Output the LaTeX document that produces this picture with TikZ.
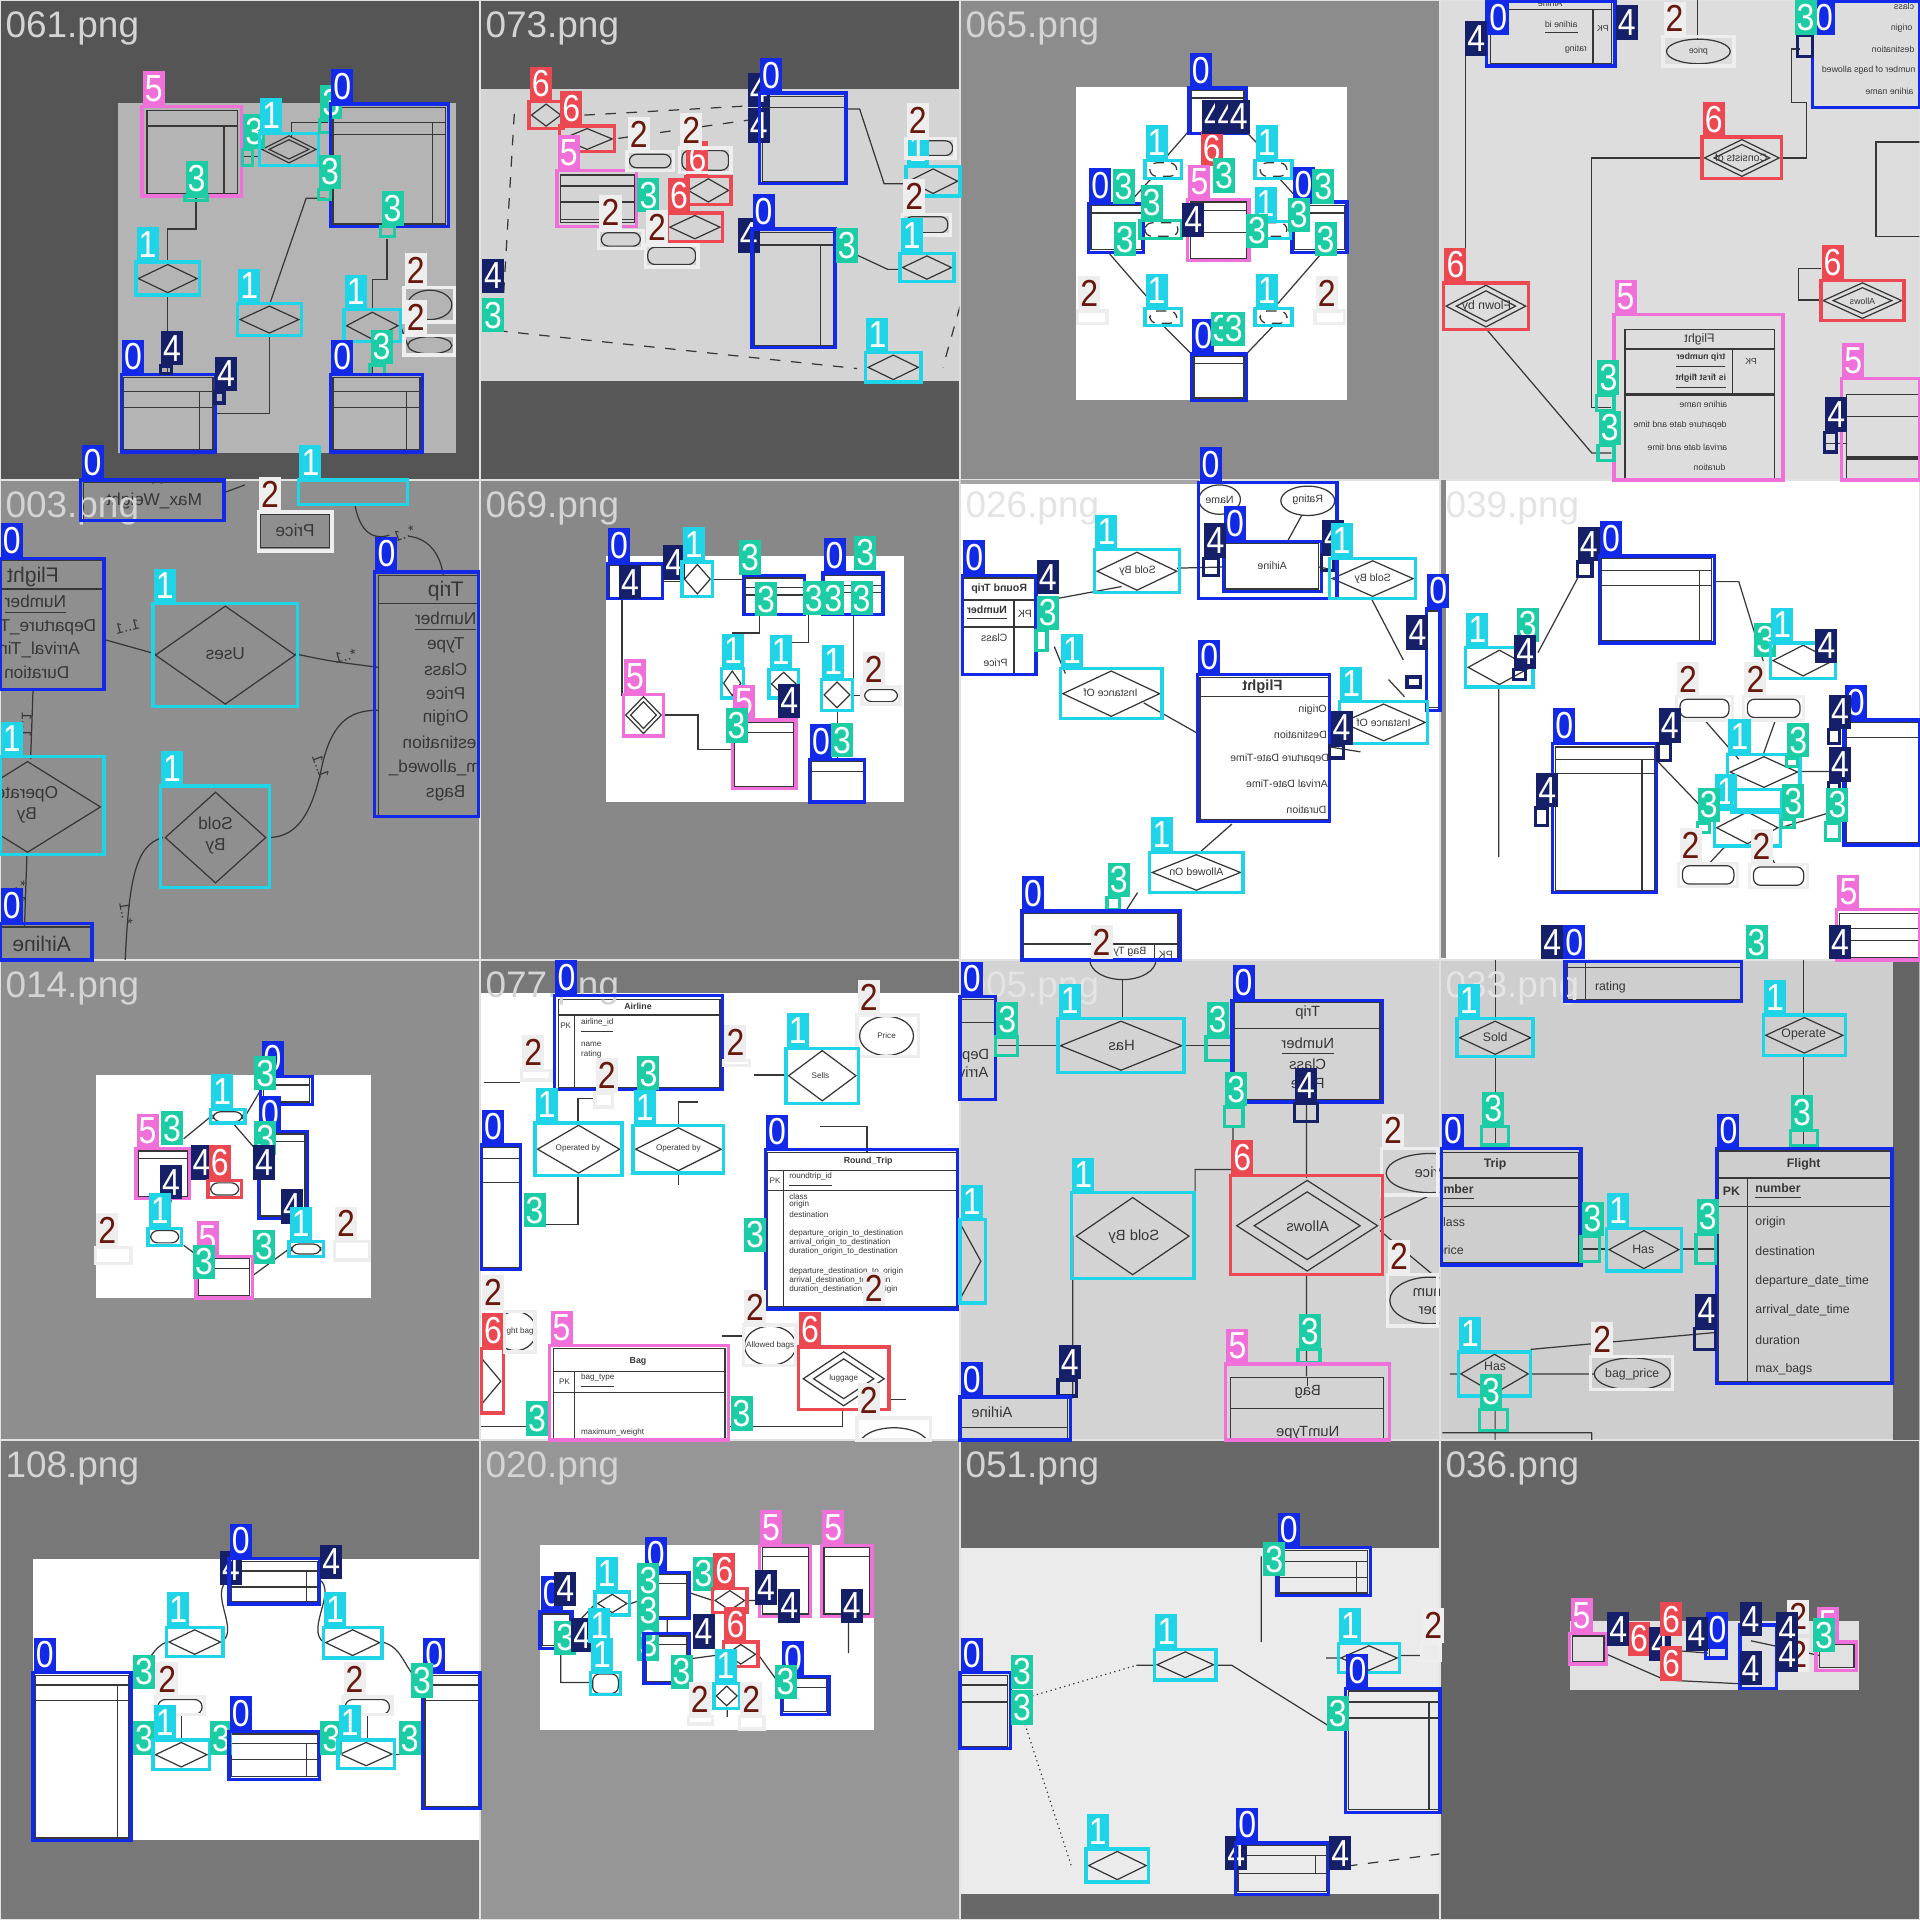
\documentclass[tikz,border=0pt]{standalone}
\usepackage{fontspec}
\setmainfont{Liberation Sans}
\newfontfamily\tagfont[FakeStretch=0.85]{Liberation Sans}

% annotation classes
\definecolor{cBlue}{RGB}{18,42,232}
\definecolor{cCyan}{RGB}{32,212,232}
\definecolor{cPale}{RGB}{238,238,238}
\definecolor{cBrown}{RGB}{104,24,12}
\definecolor{cTeal}{RGB}{28,204,164}
\definecolor{cNavy}{RGB}{22,32,104}
\definecolor{cPink}{RGB}{240,112,218}
\definecolor{cRed}{RGB}{236,72,82}
% thumbnails
\definecolor{inkGrey}{RGB}{55,55,55}
\definecolor{gapGrey}{RGB}{225,225,225}
\definecolor{bg061}{RGB}{85,85,85}
\definecolor{in061}{RGB}{180,180,180}
\definecolor{bg073}{RGB}{88,88,88}
\definecolor{in073}{RGB}{212,212,212}
\definecolor{bg065}{RGB}{140,140,140}
\definecolor{bgZoom}{RGB}{221,221,221}
\definecolor{bg003}{RGB}{143,143,143}
\definecolor{bg069}{RGB}{136,136,136}
\definecolor{bg014}{RGB}{142,142,142}
\definecolor{bg077}{RGB}{120,120,120}
\definecolor{bg005}{RGB}{211,211,211}
\definecolor{bg033}{RGB}{206,206,206}
\definecolor{strip033}{RGB}{100,100,100}
\definecolor{bg108}{RGB}{120,120,120}
\definecolor{bg020}{RGB}{150,150,150}
\definecolor{bg051}{RGB}{104,104,104}
\definecolor{in051}{RGB}{235,235,235}
\definecolor{bg036}{RGB}{102,102,102}
\definecolor{in036}{RGB}{225,225,225}
\definecolor{lblGrey}{RGB}{212,212,212}
\definecolor{lblFaint}{RGB}{228,228,228}

\newcounter{tagno}
\newcounter{txtno}
% annotation: outline, class tag on its upper left corner
\newcommand{\annframe}[5]{\draw[box#1] (#2,#3) rectangle (#4,#5);}
\newcommand{\anntag}[3]{\stepcounter{tagno}\node[tag#1] (tag\arabic{tagno}) at (#2,#3) {#1};}
\newcommand{\annbox}[5]{\annframe{#1}{#2}{#3}{#4}{#5}\anntag{#1}{#2}{#3}}
% thumbnail helpers
\newcommand{\thumbtxt}[4][]{\stepcounter{txtno}\node[lbl,#1] (txt\arabic{txtno}) at (#2,#3) {#4};}
\newcommand{\dia}[4]{\draw[ink] ({(#1+#3)/2},{#2+2}) -- ({#3-2},{(#2+#4)/2}) -- ({(#1+#3)/2},{#4-2}) -- ({#1+2},{(#2+#4)/2}) -- cycle;}
\newcommand{\ddia}[4]{\dia{#1}{#2}{#3}{#4}\dia{#1+0.12*(#3-#1)}{#2+0.12*(#4-#2)}{#3-0.12*(#3-#1)}{#4-0.12*(#4-#2)}}
\newcommand{\tilebg}[3]{\fill[#3] ({#1*392+0.5},{#2*392+0.5}) rectangle ({#1*392+391.5},{#2*392+391.5});}
\newcommand{\tileclip}[2]{\clip ({#1*392+0.5},{#2*392+0.5}) rectangle ({#1*392+391.5},{#2*392+391.5});}
\newcommand{\tilelbl}[4]{\node[tilename, text=#4] (lbl#3) at ({#1*392+4},{#2*392+31}) {#3.png};}

\begin{document}
\begin{tikzpicture}[
    x=0.012245cm, y=-0.012245cm,
    % thumbnail drawing
    ink/.style = {draw=inkGrey, line width=0.35pt},
    lbl/.style = {inner sep=0pt, text=inkGrey, sz30},
    mir/.style = {xscale=-1},
    sz23/.style = {font=\fontsize{2.3}{2.8}\selectfont},
    sz25/.style = {font=\fontsize{2.5}{3}\selectfont},
    sz30/.style = {font=\fontsize{3}{3.6}\selectfont},
    sz35/.style = {font=\fontsize{3.5}{4.2}\selectfont},
    sz42/.style = {font=\fontsize{4.2}{5}\selectfont},
    sz49/.style = {font=\fontsize{4.9}{6}\selectfont},
    sz60/.style = {font=\fontsize{6}{7}\selectfont},
    tilename/.style = {anchor=base west, inner sep=0pt, font=\fontsize{10.5}{12}\selectfont},
    % annotation boxes and tags
    tagbase/.style = {anchor=south west, inner sep=0pt, minimum width=0.22cm,
                      minimum height=0.343cm, text=white, font=\tagfont\fontsize{10.7}{11}\selectfont},
    box0/.style = {draw=cBlue, line width=0.95pt}, tag0/.style = {tagbase, fill=cBlue},
    box1/.style = {draw=cCyan, line width=0.95pt}, tag1/.style = {tagbase, fill=cCyan},
    box2/.style = {draw=cPale, line width=0.95pt}, tag2/.style = {tagbase, fill=cPale, text=cBrown},
    box3/.style = {draw=cTeal, line width=0.95pt}, tag3/.style = {tagbase, fill=cTeal},
    box4/.style = {draw=cNavy, line width=0.95pt}, tag4/.style = {tagbase, fill=cNavy},
    box5/.style = {draw=cPink, line width=0.95pt}, tag5/.style = {tagbase, fill=cPink},
    box6/.style = {draw=cRed, line width=0.95pt}, tag6/.style = {tagbase, fill=cRed}
  ]
  \useasboundingbox (0,0) rectangle (1568,1568);
  \fill[gapGrey] (0,0) rectangle (1568,1568);

  % ===== Part 1: thumbnails =====

  % --- 061 ---
  \tilebg{0}{0}{bg061}
  \begin{scope}
    \tileclip{0}{0}
    \fill[in061] (96,84) rectangle (372,370);
    \draw[ink] (120,90) rectangle (194,158) (120,103) -- (194,103) (183,103) -- (183,158);
    \draw[ink] (272,88) rectangle (364,183) (272,100) -- (364,100) (272,110) -- (364,110) (353,100) -- (353,183);
    \draw[ink] (101,308) rectangle (174,367) (101,320) -- (174,320) (101,333) -- (174,333) (163,320) -- (163,367);
    \draw[ink] (272,308) rectangle (343,367) (272,320) -- (343,320) (272,333) -- (343,333) (332,320) -- (332,367);
    \ddia{212}{109}{260}{135}
    \dia{111}{214}{163}{241}
    \dia{194}{248}{246}{274}
    \dia{281}{253}{327}{279}
    \draw[ink] (351,249) ellipse [x radius=18, y radius=12];
    \draw[ink] (351,282) ellipse [x radius=18, y radius=7];
    \draw[ink] (160,160) -- (160,187) -- (137,187) -- (137,214);
    \draw[ink] (137,241) -- (137,306);
    \draw[ink] (198,128) -- (212,128);
    \draw[ink] (238,113) -- (238,100) -- (268,100);
    \draw[ink] (220,249) -- (250,162) -- (266,162);
    \draw[ink] (220,274) -- (220,338) -- (176,338);
    \draw[ink] (304,253) -- (304,228) -- (316,228) -- (316,195);
    \draw[ink] (327,266) -- (333,250) (327,266) -- (333,282) (304,279) -- (304,306);
  \end{scope}
  \tilelbl{0}{0}{061}{lblGrey}

  % --- 073 ---
  \tilebg{1}{0}{bg073}
  \begin{scope}
    \tileclip{1}{0}
    \fill[in073] (393,73) rectangle (784,311);
    \draw[ink, dashed] (420,93) -- (410,262);
    \draw[ink, dashed] (406,270) -- (700,301);
    \draw[ink, dashed] (460,95) -- (620,86);
    \draw[ink, dashed] (505,113) -- (612,98);
    \draw[ink, dashed] (784,250) -- (770,300);
    \draw[ink] (690,89) -- (702,89) -- (722,150) -- (740,150);
    \draw[ink] (682,200) -- (725,220) -- (735,220);
    \draw[ink] (458,143) rectangle (518,182) (458,152) -- (518,152) (458,165) -- (518,165) (458,179) -- (518,179);
    \draw[ink] (623,79) rectangle (690,148) (623,88) -- (690,88);
    \draw[ink] (616,190) rectangle (681,282) (616,200) -- (681,200) (670,200) -- (670,282);
    \dia{432}{83}{460}{105}
    \dia{457}{103}{502}{124}
    \dia{560}{144}{597}{167}
    \dia{545}{174}{590}{197}
    \dia{740}{136}{784}{160}
    \dia{735}{207}{779}{230}
    \dia{707}{288}{752}{312}
    \draw[ink, rounded corners=2pt] (514,126) rectangle (548,137) (557,123) rectangle (595,139)
      (491,190) rectangle (523,201) (529,202) rectangle (568,216) (742,115) rectangle (778,127) (739,177) rectangle (774,190);
  \end{scope}
  \tilelbl{1}{0}{073}{lblGrey}

  % --- 065 ---
  \tilebg{2}{0}{bg065}
  \begin{scope}
    \tileclip{2}{0}
    \fill[white] (879,71) rectangle (1100,327);
    \draw[ink] (973,74) rectangle (1016,108) (973,80) -- (1016,80);
    \draw[ink] (891,168) rectangle (932,204) (891,174) -- (932,174);
    \draw[ink] (1057,168) rectangle (1098,204) (1057,174) -- (1098,174);
    \draw[ink] (972,165) rectangle (1018,211) (972,172) -- (1018,172) (972,190) -- (1018,190);
    \draw[ink] (975,291) rectangle (1016,325) (975,297) -- (1016,297);
    \draw[ink] (970,108) -- (950,131) (1018,108) -- (1040,131) (940,146) -- (920,168) (1045,146) -- (1065,168)
      (905,206) -- (945,252) (1080,206) -- (1040,252) (950,266) -- (975,291) (1040,266) -- (1016,291)
      (965,188) -- (972,188) (1018,188) -- (1024,188);
    \draw[ink, densely dashed, rounded corners=2pt] (939,133) rectangle (961,144) (1029,133) rectangle (1051,144)
      (939,254) rectangle (961,264) (1029,254) rectangle (1051,264) (935,182) rectangle (962,193) (1027,182) rectangle (1051,193);
  \end{scope}
  \tilelbl{2}{0}{065}{lblGrey}

  % --- zoomed tile, row 1 ---
  \tilebg{3}{0}{bgZoom}
  \begin{scope}
    \tileclip{3}{0}
    \draw[ink] (1217,-2) rectangle (1316,52) (1217,8) -- (1316,8) (1301,8) -- (1301,52);
    \thumbtxt[mir,sz25]{1266}{3}{Airline}
    \thumbtxt[mir,sz25]{1275}{23}{\underline{airline id}}
    \thumbtxt[mir,sz25]{1309}{23}{PK}
    \thumbtxt[mir,sz25]{1287}{40}{rating}
    \draw[ink] (1387,42) ellipse [x radius=26, y radius=10];
    \thumbtxt[mir,sz25]{1387}{42}{price}
    \draw[ink] (1386,0) -- (1386,32);
    \thumbtxt[mir,sz25]{1555}{5}{class}
    \thumbtxt[mir,sz25]{1553}{23}{origin}
    \thumbtxt[mir,sz25]{1546}{40}{destination}
    \thumbtxt[mir,sz25]{1526}{57}{number of bags allowed}
    \thumbtxt[mir,sz25]{1543}{75}{airline name}
    \ddia{1390}{112}{1455}{146}
    \thumbtxt[mir,sz30]{1422}{129}{Consists of}
    \ddia{1179}{231}{1248}{269}
    \thumbtxt[mir,sz35]{1214}{250}{Flown by}
    \ddia{1487}{229}{1555}{262}
    \thumbtxt[mir,sz25]{1521}{246}{Allows}
    \draw[ink] (1327,269) rectangle (1449,400) (1327,285) -- (1449,285) (1415,285) -- (1415,322);
    \draw[inkGrey, line width=0.9pt] (1327,322) -- (1449,322);
    \thumbtxt[mir,sz35]{1388}{277}{Flight}
    \thumbtxt[mir,sz25]{1389}{295}{\textbf{\underline{trip number}}}
    \thumbtxt[mir,sz25]{1430}{295}{PK}
    \thumbtxt[mir,sz25]{1389}{312}{\textbf{\underline{is first flight}}}
    \thumbtxt[mir,sz25]{1391}{330}{airline name}
    \thumbtxt[mir,sz25]{1372}{347}{departure date and time}
    \thumbtxt[mir,sz25]{1378}{365}{arrival date and time}
    \thumbtxt[mir,sz25]{1396}{382}{duration}
    \draw[ink] (1197,46) -- (1197,231);
    \draw[ink] (1214,269) -- (1300,370) -- (1316,370);
    \draw[ink] (1390,129) -- (1300,129) -- (1300,333) -- (1316,333);
    \draw[ink] (1455,129) -- (1475,129) -- (1475,84) -- (1463,84) -- (1463,40) -- (1470,40);
    \draw[ink] (1487,219) -- (1469,219) -- (1469,245) -- (1487,245);
    \draw[ink] (1532,116) rectangle (1580,193);
    \draw[ink] (1508,322) rectangle (1580,400) (1508,340) -- (1580,340) (1490,362) -- (1508,362);
    \draw[inkGrey, line width=0.9pt] (1508,374) -- (1580,374);
  \end{scope}

  % --- 003 ---
  \tilebg{0}{1}{bg003}
  \begin{scope}
    \tileclip{0}{1}
    \draw[ink] (-2,458) rectangle (84,562) (-2,481) -- (84,481);
    \thumbtxt[mir,sz60]{27}{471}{Flight}
    \thumbtxt[mir,sz49]{29}{494}{\underline{Number}}
    \thumbtxt[mir,sz49]{28}{512}{Departure\_Time}
    \thumbtxt[mir,sz49]{26}{531}{Arrival\_Time}
    \thumbtxt[mir,sz49]{30}{549}{Duration}
    \dia{125}{493}{243}{577}
    \thumbtxt[mir,sz49]{184}{534}{Uses}
    \draw[ink] (309,470) rectangle (400,667) (309,493) -- (400,493);
    \thumbtxt[mir,sz60]{364}{483}{Trip}
    \thumbtxt[mir,sz49]{364}{508}{\underline{Number}}
    \thumbtxt[mir,sz49]{364}{527}{Type}
    \thumbtxt[mir,sz49]{364}{547}{Class}
    \thumbtxt[mir,sz49]{364}{566}{Price}
    \thumbtxt[mir,sz49]{364}{586}{Origin}
    \thumbtxt[mir,sz49]{364}{606}{Destination}
    \thumbtxt[mir,sz49]{364}{627}{Num\_allowed\_}
    \thumbtxt[mir,sz49]{364}{648}{Bags}
    \dia{-39}{620}{84}{698}
    \thumbtxt[mir,sz49,align=center]{22}{657}{Operate\\By}
    \dia{133}{645}{219}{723}
    \thumbtxt[mir,sz49,align=center]{176}{682}{Sold\\By}
    \draw[ink] (-2,757) rectangle (74,790);
    \thumbtxt[mir,sz60]{34}{771}{Airline}
    \draw[ink] (68,394) rectangle (182,424);
    \thumbtxt[mir,sz49]{126}{409}{Max\_Weight}
    \thumbtxt[mir,sz49]{126}{389}{Type}
    \draw[ink] (213,420) rectangle (269,447);
    \thumbtxt[mir,sz49]{241}{433}{Price}
    \draw[ink] (84,522) -- (127,534);
    \draw[ink] (241,534) .. controls (270,540) .. (309,545);
    \draw[ink] (27,563) -- (25,620);
    \draw[ink] (22,698) -- (20,757);
    \draw[ink] (219,684) .. controls (245,684) and (255,660) .. (262,630) .. controls (270,590) and (285,580) .. (309,580);
    \draw[ink] (133,684) .. controls (110,690) and (105,720) .. (102,790);
    \draw[ink] (290,413) .. controls (295,440) and (310,440) .. (318,437);
    \draw[ink] (334,438) .. controls (352,440) and (360,455) .. (362,470);
    \draw[ink] (184,402) -- (200,396);
    \thumbtxt[mir,sz42,rotate=-15]{104}{512}{1..1}
    \thumbtxt[mir,sz42,rotate=-15]{282}{536}{*..1}
    \thumbtxt[mir,sz42,rotate=90]{22}{592}{1..1}
    \thumbtxt[mir,sz42,rotate=90]{17}{728}{1..*}
    \thumbtxt[mir,sz42,rotate=70]{262}{626}{1..1}
    \thumbtxt[mir,sz42,rotate=80]{103}{746}{*..1}
    \thumbtxt[mir,sz42,rotate=-20]{330}{436}{*..1}
  \end{scope}
  \tilelbl{0}{1}{003}{lblGrey}

  % --- 069 ---
  \tilebg{1}{1}{bg069}
  \begin{scope}
    \tileclip{1}{1}
    \fill[white] (495,454) rectangle (738,655);
    \draw[ink] (498,462) rectangle (540,488);
    \draw[ink] (609,472) rectangle (656,501) (609,480) -- (656,480) (609,486) -- (656,486);
    \draw[ink] (673,470) rectangle (720,501) (673,478) -- (720,478) (673,484) -- (720,484);
    \draw[ink] (600,590) rectangle (648,642) (600,598) -- (648,598);
    \draw[ink] (663,622) rectangle (705,654) (663,630) -- (705,630);
    \dia{557}{459}{582}{487}
    \dia{589}{546}{607}{570}
    \dia{628}{547}{652}{570}
    \dia{671}{555}{696}{580}
    \ddia{509}{567}{542}{601}
    \draw[ink] (541,475) -- (557,475) (582,473) -- (609,473) (508,490) -- (508,568)
      (542,584) -- (570,584) -- (570,612) -- (600,612) (620,502) -- (620,517) -- (598,517) -- (598,546)
      (660,502) -- (660,525) -- (640,525) -- (640,547) (697,502) -- (697,555) (696,568) -- (704,568) (684,580) -- (684,622);
    \draw[ink, rounded corners=2pt] (706,563) rectangle (733,573);
  \end{scope}
  \tilelbl{1}{1}{069}{lblGrey}

  % --- 026 ---
  \tilebg{2}{1}{white}
  \begin{scope}
    \tileclip{2}{1}
    \draw[inkGrey!45, line width=1pt] (784,393.5) -- (979,393.5);
    \draw[ink] (996,408) ellipse [x radius=17, y radius=12];
    \draw[ink] (1068,409) ellipse [x radius=22, y radius=12];
    \thumbtxt[mir]{996}{408}{Name}
    \thumbtxt[mir]{1068}{408}{Rating}
    \draw[ink] (1063,421) -- (1052,441);
    \draw[ink] (1001,444) rectangle (1077,481);
    \thumbtxt[mir]{1039}{462}{Airline}
    \dia{894}{449}{963}{484}
    \thumbtxt[mir]{929}{466}{Sold By}
    \dia{1086}{456}{1156}{489}
    \thumbtxt[mir]{1121}{473}{Sold By}
    \draw[ink] (786,472) rectangle (846,551) (786,490) -- (846,490) (786,512) -- (846,512) (828,490) -- (828,551);
    \thumbtxt[mir]{816}{481}{\textbf{Round Trip}}
    \thumbtxt[mir]{837}{501}{PK}
    \thumbtxt[mir]{806}{501}{\textbf{\underline{Number}}}
    \thumbtxt[mir]{812}{521}{Class}
    \thumbtxt[mir]{813}{541}{Price}
    \dia{866}{546}{949}{587}
    \thumbtxt[mir]{907}{566}{Instance Of}
    \dia{1094}{573}{1166}{607}
    \thumbtxt[mir]{1130}{590}{Instance Of}
    \draw[ink] (1166,499) rectangle (1180,578);
    \draw[ink] (980,553) rectangle (1086,669) (980,569) -- (1086,569);
    \thumbtxt[mir,sz42]{1031}{561}{\textbf{Flight}}
    \thumbtxt[mir]{1072}{580}{Origin}
    \thumbtxt[mir]{1062}{600}{Destination}
    \thumbtxt[mir]{1045}{620}{Departure Date-Time}
    \thumbtxt[mir]{1051}{640}{Arrival Date-Time}
    \thumbtxt[mir]{1067}{661}{Duration}
    \dia{939}{696}{1015}{729}
    \thumbtxt[mir]{977}{712}{Allowed On}
    \draw[ink] (836,746) rectangle (962,790) (836,771) -- (962,771) (943,771) -- (943,790);
    \thumbtxt[mir]{952}{780}{PK}
    \thumbtxt[mir]{918}{780}{\underline{Bag Type}}
    \draw[ink] (846,492) -- (916,479) (961,464) -- (1001,463) (1077,463) -- (1092,466)
      (1120,489) -- (1146,539) (861,528) -- (870,550) (934,574) -- (980,600)
      (1134,555) -- (1147,569) (1086,610) -- (1111,614) (981,695) -- (1006,673) (929,729) -- (918,746);
  \end{scope}
  \tilelbl{2}{1}{026}{lblFaint}

  % --- 039 ---
  \tilebg{3}{1}{white}
  \begin{scope}
    \tileclip{3}{1}
    \fill[inkGrey!60] (1176.5,392) rectangle (1181,782);
    \draw[ink] (1308,456) rectangle (1398,523) (1308,466) -- (1398,466) (1308,478) -- (1398,478) (1388,466) -- (1388,523);
    \draw[ink] (1270,610) rectangle (1351,727) (1270,620) -- (1351,620) (1270,632) -- (1351,632) (1341,620) -- (1341,727);
    \draw[ink] (1508,590) rectangle (1580,688) (1508,602) -- (1580,602);
    \draw[ink] (1502,746) rectangle (1580,782) (1502,758) -- (1580,758) (1502,768) -- (1580,768);
    \dia{1197}{529}{1252}{561}
    \dia{1446}{525}{1499}{554}
    \dia{1411}{616}{1470}{645}
    \dia{1400}{661}{1454}{691}
    \draw[ink, rounded corners=2pt] (1372,571) rectangle (1412,586) (1427,571) rectangle (1470,586)
      (1374,707) rectangle (1416,722) (1432,708) rectangle (1473,723);
    \draw[ink] (1289,471) -- (1256,533) (1400,475) -- (1420,475) -- (1440,540) (1352,620) -- (1400,670)
      (1470,630) -- (1506,630) (1454,676) -- (1506,660) (1392,588) -- (1420,620) (1450,588) -- (1440,616)
      (1395,706) -- (1410,690) (1450,706) -- (1440,690) (1224,561) -- (1224,700);
  \end{scope}
  \tilelbl{3}{1}{039}{lblFaint}

  % --- 014 ---
  \tilebg{0}{2}{bg014}
  \begin{scope}
    \tileclip{0}{2}
    \fill[white] (78,878) rectangle (303,1060);
    \draw[ink] (113,940) rectangle (153,977) (113,946) -- (153,946);
    \draw[ink] (215,880) rectangle (253,900) (215,886) -- (253,886);
    \draw[ink] (213,926) rectangle (249,993) (213,932) -- (249,932);
    \draw[ink] (162,1028) rectangle (204,1058) (162,1036) -- (204,1036);
    \draw[ink] (150,930) -- (172,912) (200,912) -- (213,890) (190,917) -- (210,940)
      (135,1003) -- (140,979) (150,1017) -- (165,1028) (236,1020) -- (206,1042) (250,995) -- (250,1014);
    \draw[ink, rounded corners=2pt] (174,908) rectangle (198,916) (123,1005) rectangle (146,1015)
      (238,1016) rectangle (262,1024) (172,966) rectangle (195,976);
  \end{scope}
  \tilelbl{0}{2}{014}{lblGrey}

  % --- 077 ---
  \tilebg{1}{2}{white}
  \begin{scope}
    \tileclip{1}{2}
    \fill[bg077] (392.5,784.5) rectangle (783.5,811);
    \draw[ink] (456,816) rectangle (588,888) (456,829) -- (588,829) (469,829) -- (469,888);
    \thumbtxt[sz25]{521}{822}{\textbf{Airline}}
    \thumbtxt[sz23]{462}{838}{PK}
    \thumbtxt[sz23,anchor=west]{474}{838}{\underline{airline\_id}}
    \thumbtxt[sz23,anchor=west]{474}{853}{name}
    \thumbtxt[sz23,anchor=west]{474}{861}{rating}
    \draw[ink] (724,846) ellipse [x radius=22, y radius=16];
    \thumbtxt[sz23]{724}{846}{Price}
    \dia{642}{856}{701}{901}
    \thumbtxt[sz23]{670}{878}{Sells}
    \dia{437}{917}{508}{960}
    \thumbtxt[sz23]{472}{938}{Operated by}
    \dia{517}{919}{591}{958}
    \thumbtxt[sz23]{554}{938}{Operated by}
    \draw[ink] (394,937) rectangle (424,1035) (394,946) -- (424,946) (394,966) -- (424,966);
    \draw[ink] (627,941) rectangle (781,1067) (627,956) -- (781,956) (627,972) -- (781,972) (640,956) -- (640,1067);
    \thumbtxt[sz25]{709}{948}{\textbf{Round\_Trip}}
    \thumbtxt[sz23]{633}{964}{PK}
    \thumbtxt[sz23,anchor=west]{644}{964}{\underline{roundtrip\_id}}
    \thumbtxt[sz23,anchor=west]{644}{977}{class}
    \thumbtxt[sz23,anchor=west]{644}{984}{origin}
    \thumbtxt[sz23,anchor=west]{644}{992}{destination}
    \thumbtxt[sz23,anchor=west]{644}{1007}{departure\_origin\_to\_destination}
    \thumbtxt[sz23,anchor=west]{644}{1015}{arrival\_origin\_to\_destination}
    \thumbtxt[sz23,anchor=west]{644}{1022}{duration\_origin\_to\_destination}
    \thumbtxt[sz23,anchor=west]{644}{1038}{departure\_destination\_to\_origin}
    \thumbtxt[sz23,anchor=west]{644}{1046}{arrival\_destination\_to\_origin}
    \thumbtxt[sz23,anchor=west]{644}{1053}{duration\_destination\_to\_origin}
    \draw[ink] (452,1101) rectangle (592,1180) (452,1120) -- (592,1120) (452,1137) -- (592,1137) (469,1120) -- (469,1180);
    \thumbtxt[sz25]{521}{1112}{\textbf{Bag}}
    \thumbtxt[sz23]{461}{1128}{PK}
    \thumbtxt[sz23,anchor=west]{474}{1128}{\underline{bag\_type}}
    \thumbtxt[sz23,anchor=west]{474}{1170}{maximum\_weight}
    \draw[ink] (629,1099) ellipse [x radius=21, y radius=16];
    \thumbtxt[sz23]{629}{1099}{Allowed bags}
    \ddia{654}{1102}{724}{1150}
    \thumbtxt[sz23]{689}{1126}{luggage}
    \draw[ink] (421,1087) ellipse [x radius=17, y radius=16];
    \thumbtxt[sz23]{423}{1087}{Flight bags}
    \dia{370}{1104}{411}{1152}
    \draw[ink] (730,1180) ellipse [x radius=28, y radius=14];
    \draw[ink] (395,884) -- (425,884) (616,878) -- (642,878) (446,1000) -- (472,1000) -- (472,960)
      (472,917) -- (472,897) -- (486,897) (554,919) -- (554,900) -- (570,900) (554,958) -- (554,968)
      (670,920) -- (708,920) -- (708,941) (596,1165) -- (688,1165) -- (688,1150) (724,1143) -- (740,1143)
      (393,1165) -- (448,1165) (590,1091) -- (607,1091);
  \end{scope}
  \tilelbl{1}{2}{077}{lblGrey}

  % --- 005 ---
  \tilebg{2}{2}{bg005}
  \begin{scope}
    \tileclip{2}{2}
    \draw[ink] (917,784) ellipse [x radius=27, y radius=16];
    \thumbtxt[mir,sz42]{917}{781}{Type}
    \draw[ink] (917,800) -- (917,833);
    \dia{864}{832}{967}{876}
    \thumbtxt[mir,sz42]{916}{854}{Has}
    \draw[ink] (780,816) rectangle (812,897) (780,835) -- (812,835);
    \thumbtxt[mir,sz42]{781}{862}{Departure}
    \thumbtxt[mir,sz42]{790}{876}{Arrival}
    \draw[ink] (815,854) -- (864,854) (967,854) -- (1006,854);
    \draw[ink] (1008,819) rectangle (1127,898) (1008,840) -- (1127,840);
    \thumbtxt[mir,sz42]{1068}{827}{Trip}
    \thumbtxt[mir,sz42]{1068}{855}{\underline{Number}}
    \thumbtxt[mir,sz42]{1068}{869}{Class}
    \thumbtxt[mir,sz42]{1068}{885}{Price}
    \ddia{1008}{962}{1127}{1040}
    \thumbtxt[mir,sz42]{1068}{1001}{Allows}
    \dia{877}{976}{973}{1043}
    \thumbtxt[mir,sz42]{926}{1010}{Sold By}
    \draw[ink] (1067,898) -- (1067,962) (976,1009) -- (976,955) -- (1007,955) -- (1007,920)
      (1067,1040) -- (1067,1124) (876,1009) -- (876,1142)
      (1127,996) -- (1166,977) (1127,1005) -- (1169,1040);
    \draw[ink] (1168,958) ellipse [x radius=36, y radius=16];
    \thumbtxt[mir,sz42]{1169}{957}{Price}
    \draw[ink] (1168,1062) ellipse [x radius=33, y radius=19];
    \thumbtxt[mir,sz42,align=center]{1180}{1062}{Maximum\\Number}
    \draw[ink] (1005,1125) rectangle (1130,1180) (1005,1150) -- (1130,1150) (1068,1125) -- (1068,1132);
    \thumbtxt[mir,sz42]{1068}{1137}{Bag}
    \thumbtxt[mir,sz42]{1068}{1170}{NumType}
    \draw[ink] (780,1142) rectangle (872,1180) (780,1166) -- (872,1166);
    \thumbtxt[mir,sz42]{810}{1153}{Airline}
    \dia{766}{998}{803}{1062}
  \end{scope}
  \tilelbl{2}{2}{005}{lblFaint}

  % --- 033 ---
  \tilebg{3}{2}{bg033}
  \begin{scope}
    \tileclip{3}{2}
    \fill[strip033] (1546,784) rectangle (1568,1176);
    \draw[ink] (1280,780) rectangle (1422,816) (1295,780) -- (1295,816) (1280,790) -- (1422,790);
    \thumbtxt[sz35,anchor=west]{1302}{806}{rating}
    \draw[ink] (1221,784) -- (1221,833) (1221,863) -- (1221,938);
    \dia{1190}{832}{1252}{863}
    \thumbtxt[sz35]{1221}{847}{Sold}
    \draw[ink] (1473,784) -- (1473,830) (1473,862) -- (1473,938);
    \dia{1440}{829}{1507}{862}
    \thumbtxt[sz35]{1473}{845}{Operate}
    \draw[ink] (1170,941) rectangle (1289,1031) (1170,962) -- (1289,962) (1170,985) -- (1289,985);
    \thumbtxt[sz35]{1221}{951}{\textbf{Trip}}
    \thumbtxt[sz35,anchor=west]{1166}{974}{\textbf{\underline{number}}}
    \thumbtxt[sz35,anchor=west]{1173}{998}{class}
    \thumbtxt[sz35,anchor=west]{1173}{1022}{price}
    \dia{1312}{1003}{1373}{1038}
    \thumbtxt[sz35]{1342}{1020}{Has}
    \draw[ink] (1289,1020) -- (1312,1020) (1373,1020) -- (1403,1020);
    \draw[ink] (1403,940) rectangle (1544,1128) (1403,962) -- (1544,962) (1403,985) -- (1544,985) (1427,962) -- (1427,1128);
    \thumbtxt[sz35]{1473}{951}{\textbf{Flight}}
    \thumbtxt[sz35]{1414}{973}{\textbf{PK}}
    \thumbtxt[sz35,anchor=west]{1433}{973}{\textbf{\underline{number}}}
    \thumbtxt[sz35,anchor=west]{1433}{998}{origin}
    \thumbtxt[sz35,anchor=west]{1433}{1022}{destination}
    \thumbtxt[sz35,anchor=west]{1433}{1046}{departure\_date\_time}
    \thumbtxt[sz35,anchor=west]{1433}{1070}{arrival\_date\_time}
    \thumbtxt[sz35,anchor=west]{1433}{1094}{duration}
    \thumbtxt[sz35,anchor=west]{1433}{1118}{max\_bags}
    \dia{1191}{1104}{1250}{1140}
    \thumbtxt[sz35]{1221}{1116}{Has}
    \draw[ink] (1250,1102) -- (1403,1088) (1250,1122) -- (1302,1122) (1221,1140) -- (1221,1176)
      (1178,1170) -- (1300,1170) (1300,1170) -- (1300,1176) (1191,1122) -- (1184,1122);
    \draw[ink] (1333,1122) ellipse [x radius=31, y radius=13];
    \thumbtxt[sz35]{1333}{1122}{bag\_price}
  \end{scope}
  \tilelbl{3}{2}{033}{lblFaint}

  % --- 108 ---
  \tilebg{0}{3}{bg108}
  \begin{scope}
    \tileclip{0}{3}
    \fill[white] (27,1273) rectangle (392,1503);
    \draw[ink] (189,1275) rectangle (259,1308) (189,1283) -- (259,1283) (189,1296) -- (259,1296) (250,1283) -- (250,1308);
    \draw[ink] (29,1368) rectangle (105,1501) (29,1376) -- (105,1376) (29,1389) -- (105,1389) (96,1376) -- (96,1501);
    \draw[ink] (347,1368) rectangle (398,1475) (347,1376) -- (398,1376) (347,1389) -- (398,1389);
    \draw[ink] (189,1416) rectangle (259,1451) (189,1424) -- (259,1424) (189,1437) -- (259,1437) (250,1424) -- (250,1451);
    \dia{136}{1329}{182}{1353}
    \dia{264}{1329}{312}{1354}
    \dia{125}{1421}{171}{1445}
    \dia{276}{1421}{322}{1444}
    \draw[ink, rounded corners=2pt] (129,1388) rectangle (165,1400) (282,1388) rectangle (318,1400);
    \draw[ink] (187,1290) .. controls (170,1300) and (195,1330) .. (182,1340);
    \draw[ink] (136,1341) .. controls (125,1345) and (120,1360) .. (110,1370);
    \draw[ink] (261,1290) .. controls (275,1300) and (250,1330) .. (264,1341);
    \draw[ink] (312,1341) .. controls (330,1345) and (330,1365) .. (345,1375);
    \draw[ink] (107,1433) -- (125,1433) (171,1433) -- (187,1433) (261,1433) -- (276,1433) (322,1433) -- (345,1433)
      (148,1400) -- (148,1421) (300,1400) -- (300,1421);
  \end{scope}
  \tilelbl{0}{3}{108}{lblGrey}

  % --- 020 ---
  \tilebg{1}{3}{bg020}
  \begin{scope}
    \tileclip{1}{3}
    \fill[white] (441,1262) rectangle (714,1413);
    \draw[ink] (528,1286) rectangle (561,1320) (528,1293) -- (561,1293);
    \draw[ink] (623,1264) rectangle (660,1318) (623,1271) -- (660,1271);
    \draw[ink] (673,1264) rectangle (710,1318) (673,1271) -- (710,1271);
    \draw[ink] (640,1371) rectangle (675,1398) (640,1378) -- (675,1378);
    \draw[ink] (443,1318) rectangle (465,1344);
    \draw[ink] (528,1336) rectangle (561,1373) (528,1343) -- (561,1343);
    \dia{486}{1300}{514}{1319}
    \dia{582}{1297}{610}{1317}
    \dia{591}{1341}{619}{1361}
    \dia{583}{1375}{604}{1395}
    \draw[ink, rounded corners=2pt] (484,1367) rectangle (505,1383);
    \draw[ink] (467,1330) -- (486,1310) (458,1346) -- (458,1374) -- (482,1374) (514,1310) -- (528,1305)
      (561,1300) -- (582,1307) (610,1307) -- (623,1307) (619,1351) -- (640,1380) (693,1320) -- (693,1350)
      (561,1355) -- (591,1351) (545,1320) -- (545,1336) (594,1395) -- (594,1402);
  \end{scope}
  \tilelbl{1}{3}{020}{lblGrey}

  % --- 051 ---
  \tilebg{2}{3}{bg051}
  \begin{scope}
    \tileclip{2}{3}
    \fill[in051] (784,1264) rectangle (1176,1547);
    \draw[ink] (1045,1266) rectangle (1117,1301) (1045,1275) -- (1117,1275) (1045,1288) -- (1117,1288) (1108,1275) -- (1108,1301);
    \draw[ink] (1101,1381) rectangle (1180,1478) (1101,1390) -- (1180,1390) (1101,1403) -- (1180,1403) (1167,1390) -- (1167,1478);
    \draw[ink] (780,1368) rectangle (823,1426) (780,1376) -- (823,1376) (780,1390) -- (823,1390);
    \draw[ink] (1011,1507) rectangle (1083,1545) (1011,1515) -- (1083,1515) (1011,1530) -- (1083,1530) (1074,1515) -- (1074,1530);
    \dia{943}{1347}{993}{1372}
    \dia{1093}{1342}{1143}{1366}
    \dia{887}{1510}{938}{1537}
    \draw[ink, densely dotted] (843,1385) -- (928,1360) (837,1408) -- (875,1524);
    \draw[ink] (928,1360) -- (943,1360) (993,1360) -- (1006,1360) -- (1086,1410) (1030,1271) -- (1030,1341)
      (1143,1352) -- (1160,1352) (1083,1354) -- (1093,1354);
    \draw[ink, dashed] (1100,1524) -- (1176,1514);
  \end{scope}
  \tilelbl{2}{3}{051}{lblGrey}

  % --- 036 ---
  \tilebg{3}{3}{bg036}
  \begin{scope}
    \tileclip{3}{3}
    \fill[in036] (1282,1324) rectangle (1518,1380);
    \draw[ink] (1284,1336) rectangle (1310,1357) (1486,1343) rectangle (1514,1362) (1396,1346) rectangle (1409,1353);
    \draw[ink] (1310,1350) -- (1360,1372) -- (1420,1375) (1330,1345) -- (1395,1350) (1430,1340) -- (1486,1352);
    \draw[ink, rounded corners=2pt] (1357,1366) rectangle (1371,1372);
  \end{scope}
  \tilelbl{3}{3}{036}{lblGrey}

  % ===== Part 2: annotation boxes =====

  % --- 061 ---
  \annbox{5}{116}{87}{197}{160}
  \annbox{3}{198}{122}{206}{135}
  \annbox{1}{212}{109}{260}{135}
  \annbox{3}{261}{98}{270}{108}
  \annbox{0}{270}{85}{366}{185}
  \annbox{3}{260}{155}{270}{163}
  \annbox{3}{151}{160}{169}{164}
  \annbox{3}{311}{185}{322}{193}
  \annbox{1}{111}{214}{163}{241}
  \annbox{1}{194}{248}{246}{274}
  \annbox{1}{281}{253}{327}{279}
  \annbox{2}{330}{235}{371}{263}
  \annbox{2}{330}{274}{371}{290}
  \annbox{3}{302}{298}{314}{306}
  \annbox{0}{99}{306}{176}{369}
  \annbox{4}{131}{299}{140}{305}
  \annbox{4}{175}{320}{183}{329}
  \annbox{0}{270}{306}{345}{369}

  % --- 073 ---
  \annbox{6}{432}{83}{460}{105}
  \annbox{6}{457}{103}{502}{124}
  \annbox{5}{455}{139}{520}{185}
  \annbox{2}{512}{124}{550}{139}
  \annbox{6}{560}{144}{597}{167}
  \annbox{2}{555}{121}{597}{141}
  \anntag{3}{520}{174}
  \annbox{6}{545}{174}{590}{197}
  \annbox{2}{489}{188}{525}{203}
  \annbox{2}{527}{200}{570}{218}
  \anntag{4}{610}{88}
  \anntag{4}{610}{117}
  \annbox{0}{620}{76}{691}{150}
  \anntag{4}{602}{207}
  \annbox{0}{614}{187}{682}{284}
  \anntag{3}{682}{215}
  \annbox{1}{740}{136}{784}{160}
  \annbox{2}{740}{113}{780}{129}
  \annbox{2}{737}{175}{776}{192}
  \annbox{1}{735}{207}{779}{230}
  \annbox{1}{707}{288}{752}{312}
  \anntag{4}{393}{240}
  \anntag{3}{393}{272}

  % --- 065 ---
  \annbox{0}{971}{72}{1018}{109}
  \anntag{6}{980}{136}
  \anntag{4}{981}{110}
  \anntag{4}{992}{110}
  \anntag{4}{1002}{110}
  \annbox{5}{970}{163}{1020}{213}
  \anntag{3}{990}{158}
  \annbox{1}{935}{131}{965}{146}
  \annbox{1}{1025}{131}{1055}{146}
  \annbox{0}{889}{166}{934}{206}
  \anntag{3}{908}{167}
  \annbox{3}{931}{180}{965}{195}
  \anntag{3}{909}{210}
  \anntag{4}{965}{194}
  \annbox{0}{1055}{165}{1100}{206}
  \anntag{3}{1071}{167}
  \annbox{1}{1024}{181}{1054}{195}
  \anntag{3}{1051}{190}
  \anntag{3}{1017}{203}
  \anntag{3}{1073}{210}
  \annbox{2}{880}{254}{904}{264}
  \annbox{2}{1074}{254}{1098}{264}
  \annbox{1}{935}{252}{965}{266}
  \annbox{1}{1025}{252}{1055}{266}
  \annbox{0}{973}{289}{1018}{327}
  \anntag{3}{988}{283}
  \anntag{3}{998}{283}

  % --- zoomed tile, row 1 ---
  \annframe{0}{1214}{1}{1319}{54}
  \anntag{0}{1214}{29}
  \anntag{4}{1196}{46}
  \anntag{4}{1319}{33}
  \annbox{2}{1358}{30}{1416}{54}
  \annframe{0}{1480}{1}{1568}{88}
  \anntag{0}{1480}{29}
  \annframe{4}{1468}{29}{1480}{46}
  \anntag{3}{1465}{29}
  \annbox{6}{1390}{112}{1455}{146}
  \annbox{6}{1179}{231}{1248}{269}
  \annbox{6}{1487}{229}{1555}{262}
  \annbox{5}{1318}{257}{1456}{392}
  \annbox{3}{1304}{323}{1318}{335}
  \annbox{3}{1305}{364}{1318}{376}
  \annbox{5}{1504}{309}{1568}{392}
  \annbox{4}{1490}{353}{1500}{369}

  % --- 003 ---
  \annbox{0}{66}{392}{183}{425}
  \annbox{1}{244}{392}{333}{412}
  \annbox{2}{211}{418}{271}{450}
  \annbox{0}{0}{456}{85}{563}
  \annbox{1}{125}{493}{243}{577}
  \annbox{0}{306}{467}{391}{667}
  \annbox{1}{0}{618}{85}{698}
  \annbox{1}{131}{642}{220}{725}
  \annbox{0}{0}{754}{75}{784}

  % --- 069 ---
  \annbox{0}{496}{460}{541}{489}
  \anntag{4}{505}{490}
  \anntag{4}{541}{474}
  \annbox{1}{557}{459}{582}{487}
  \annframe{0}{607}{470}{657}{502}
  \anntag{3}{603}{470}
  \anntag{3}{616}{504}
  \annbox{0}{672}{468}{721}{502}
  \anntag{3}{697}{466}
  \anntag{3}{655}{503}
  \anntag{3}{671}{503}
  \anntag{3}{694}{503}
  \annbox{1}{589}{546}{607}{570}
  \annbox{1}{628}{547}{652}{570}
  \anntag{4}{635}{587}
  \annbox{1}{671}{555}{696}{580}
  \annbox{2}{704}{561}{735}{575}
  \annbox{5}{509}{567}{542}{601}
  \annbox{5}{598}{588}{650}{644}
  \anntag{3}{592}{607}
  \annbox{0}{661}{620}{706}{655}
  \anntag{3}{678}{619}

  % --- 026 ---
  \annbox{0}{979}{394}{1092}{489}
  \annbox{0}{999}{442}{1079}{483}
  \annbox{4}{983}{456}{995}{470}
  \annbox{4}{1079}{453}{1089}{466}
  \annbox{1}{894}{449}{963}{484}
  \annbox{1}{1086}{456}{1156}{489}
  \annbox{0}{786}{470}{846}{551}
  \anntag{4}{846}{486}
  \annbox{3}{846}{515}{855}{531}
  \annbox{1}{866}{546}{949}{587}
  \annframe{0}{1165}{497}{1176}{580}
  \anntag{0}{1165}{497}
  \anntag{4}{1148}{531}
  \annframe{4}{1149}{553}{1160}{561}
  \annbox{0}{978}{551}{1086}{671}
  \annbox{1}{1094}{573}{1166}{607}
  \annbox{4}{1086}{609}{1097}{619}
  \annbox{1}{939}{696}{1015}{729}
  \annbox{3}{904}{733}{914}{743}
  \annbox{0}{834}{744}{964}{784}
  \anntag{2}{890}{784}

  % --- 039 ---
  \annbox{4}{1288}{459}{1300}{471}
  \annbox{0}{1306}{454}{1400}{525}
  \annbox{1}{1197}{529}{1252}{561}
  \anntag{3}{1238}{525}
  \annbox{4}{1236}{547}{1246}{555}
  \anntag{3}{1432}{537}
  \annbox{1}{1446}{525}{1499}{554}
  \anntag{4}{1482}{542}
  \annbox{2}{1369}{569}{1415}{588}
  \annbox{2}{1424}{569}{1473}{588}
  \annbox{0}{1268}{607}{1353}{729}
  \annbox{4}{1354}{607}{1364}{621}
  \annbox{4}{1254}{660}{1264}{674}
  \annbox{1}{1411}{616}{1470}{645}
  \annbox{3}{1459}{619}{1468}{626}
  \annbox{0}{1506}{588}{1568}{690}
  \annbox{4}{1493}{596}{1502}{607}
  \annbox{4}{1493}{639}{1502}{645}
  \annbox{3}{1491}{672}{1502}{686}
  \annbox{1}{1400}{661}{1454}{691}
  \annframe{1}{1414}{645}{1455}{663}
  \annbox{3}{1386}{672}{1396}{680}
  \annbox{3}{1455}{669}{1465}{676}
  \annbox{2}{1371}{705}{1419}{724}
  \annbox{2}{1429}{706}{1476}{725}
  \annbox{5}{1500}{743}{1568}{784}
  \anntag{4}{1493}{784}
  \anntag{4}{1258}{784}
  \annframe{0}{1278}{785}{1422}{818}
  \anntag{0}{1276}{784}
  \anntag{3}{1425}{784}

  % --- 014 ---
  \annbox{0}{213}{879}{255}{902}
  \anntag{3}{207}{891}
  \annbox{1}{172}{906}{200}{917}
  \annbox{5}{111}{938}{155}{979}
  \anntag{3}{131}{936}
  \annbox{0}{211}{924}{251}{995}
  \anntag{3}{207}{944}
  \anntag{4}{155}{964}
  \annbox{6}{170}{964}{197}{978}
  \anntag{4}{130}{980}
  \anntag{4}{206}{964}
  \anntag{4}{229}{1000}
  \annbox{1}{121}{1003}{148}{1017}
  \annbox{1}{236}{1014}{264}{1026}
  \anntag{3}{206}{1033}
  \annbox{5}{160}{1026}{206}{1060}
  \anntag{3}{157}{1045}
  \annbox{2}{78}{1019}{107}{1032}
  \annbox{2}{273}{1014}{302}{1029}

  % --- 077 ---
  \annbox{0}{453}{813}{590}{890}
  \annbox{2}{426}{874}{450}{882}
  \annbox{2}{591}{866}{612}{870}
  \annbox{2}{486}{893}{500}{904}
  \anntag{3}{520}{891}
  \annbox{2}{700}{829}{750}{863}
  \annbox{1}{642}{856}{701}{901}
  \annbox{1}{437}{917}{508}{960}
  \annbox{1}{517}{919}{591}{958}
  \annbox{0}{393}{935}{425}{1037}
  \anntag{3}{427}{1003}
  \annbox{0}{625}{939}{782}{1069}
  \anntag{3}{607}{1023}
  \anntag{2}{704}{1067}
  \anntag{2}{393}{1070}
  \annbox{6}{393}{1101}{411}{1154}
  \annframe{2}{412}{1071}{437}{1104}
  \annbox{5}{449}{1099}{595}{1176}
  \anntag{3}{429}{1173}
  \anntag{3}{596}{1169}
  \annbox{2}{607}{1082}{650}{1115}
  \annbox{6}{652}{1100}{726}{1151}
  \annbox{2}{700}{1158}{760}{1176}

  % --- 005 ---
  \annbox{0}{784}{814}{813}{898}
  \annbox{3}{813}{847}{831}{862}
  \annbox{1}{864}{832}{967}{876}
  \annbox{3}{985}{847}{1006}{866}
  \annbox{0}{1006}{817}{1129}{900}
  \annbox{3}{1000}{904}{1015}{920}
  \annbox{4}{1057}{901}{1076}{916}
  \annbox{2}{1128}{938}{1174}{976}
  \annbox{6}{1005}{960}{1129}{1041}
  \annbox{1}{875}{974}{975}{1044}
  \annbox{1}{784}{996}{805}{1064}
  \annbox{2}{1133}{1041}{1174}{1083}
  \annbox{3}{1060}{1102}{1078}{1113}
  \annbox{5}{1001}{1114}{1135}{1176}
  \annbox{4}{864}{1127}{879}{1140}
  \annbox{0}{784}{1141}{874}{1176}

  % --- 033 ---
  \annbox{1}{1190}{832}{1252}{863}
  \annbox{1}{1440}{829}{1507}{862}
  \annbox{3}{1210}{920}{1232}{935}
  \annbox{3}{1462}{923}{1484}{936}
  \annbox{0}{1177}{938}{1291}{1033}
  \annbox{0}{1402}{938}{1545}{1130}
  \annbox{3}{1291}{1010}{1306}{1030}
  \annbox{1}{1312}{1003}{1373}{1038}
  \annbox{3}{1385}{1008}{1401}{1032}
  \annbox{4}{1384}{1085}{1401}{1102}
  \annbox{2}{1299}{1108}{1366}{1135}
  \annbox{1}{1191}{1104}{1250}{1140}
  \annbox{3}{1208}{1151}{1231}{1168}

  % --- 108 ---
  \anntag{4}{179}{1295}
  \annbox{0}{187}{1273}{261}{1310}
  \anntag{4}{261}{1290}
  \annbox{1}{136}{1329}{182}{1353}
  \annbox{1}{264}{1329}{312}{1354}
  \annbox{0}{27}{1366}{107}{1503}
  \anntag{3}{108}{1380}
  \annbox{2}{127}{1386}{167}{1400}
  \annbox{2}{280}{1386}{320}{1400}
  \annbox{0}{345}{1366}{392}{1477}
  \anntag{3}{335}{1387}
  \anntag{3}{108}{1434}
  \annbox{1}{125}{1421}{171}{1445}
  \anntag{3}{171}{1434}
  \annbox{0}{187}{1414}{261}{1453}
  \anntag{3}{261}{1434}
  \annbox{1}{276}{1421}{322}{1444}
  \anntag{3}{325}{1434}

  % --- 020 ---
  \annbox{5}{620}{1262}{662}{1320}
  \annbox{5}{671}{1262}{712}{1320}
  \anntag{4}{616}{1311}
  \anntag{4}{635}{1326}
  \anntag{4}{686}{1326}
  \annbox{0}{526}{1284}{563}{1322}
  \anntag{3}{565}{1300}
  \annbox{6}{582}{1297}{610}{1317}
  \annbox{6}{591}{1341}{619}{1361}
  \annbox{1}{486}{1300}{514}{1319}
  \annbox{0}{441}{1316}{467}{1346}
  \anntag{4}{452}{1312}
  \anntag{3}{452}{1352}
  \anntag{4}{466}{1350}
  \anntag{1}{480}{1342}
  \anntag{3}{520}{1305}
  \anntag{3}{520}{1330}
  \anntag{3}{520}{1357}
  \annbox{1}{482}{1366}{507}{1384}
  \anntag{4}{565}{1347}
  \annframe{0}{526}{1334}{563}{1375}
  \anntag{3}{547}{1380}
  \annbox{1}{583}{1375}{604}{1395}
  \annbox{2}{562}{1402}{582}{1408}
  \annbox{2}{604}{1402}{624}{1412}
  \annbox{0}{638}{1369}{677}{1400}
  \anntag{3}{632}{1388}

  % --- 051 ---
  \annbox{0}{1043}{1264}{1119}{1303}
  \anntag{3}{1031}{1288}
  \annbox{1}{943}{1347}{993}{1372}
  \annbox{1}{1093}{1342}{1143}{1366}
  \annbox{2}{1161}{1342}{1176}{1356}
  \annbox{0}{1099}{1379}{1176}{1480}
  \anntag{3}{1083}{1414}
  \annbox{0}{784}{1366}{825}{1428}
  \anntag{3}{825}{1380}
  \anntag{3}{825}{1409}
  \annbox{1}{887}{1510}{938}{1537}
  \anntag{4}{1000}{1528}
  \annbox{0}{1009}{1505}{1085}{1547}
  \anntag{4}{1085}{1528}

  % --- 036 ---
  \annbox{5}{1282}{1334}{1312}{1359}
  \anntag{6}{1329}{1353}
  \anntag{4}{1312}{1345}
  \anntag{4}{1346}{1357}
  \anntag{6}{1355}{1337}
  \anntag{6}{1355}{1373}
  \annbox{0}{1393}{1345}{1410}{1354}
  \anntag{4}{1376}{1349}
  \annframe{0}{1421}{1327}{1451}{1379}
  \anntag{4}{1420}{1337}
  \anntag{4}{1420}{1377}
  \anntag{2}{1459}{1335}
  \anntag{2}{1459}{1366}
  \anntag{4}{1450}{1345}
  \anntag{4}{1450}{1366}
  \annbox{5}{1483}{1341}{1516}{1364}
  \anntag{3}{1480}{1350}

\end{tikzpicture}
\end{document}
